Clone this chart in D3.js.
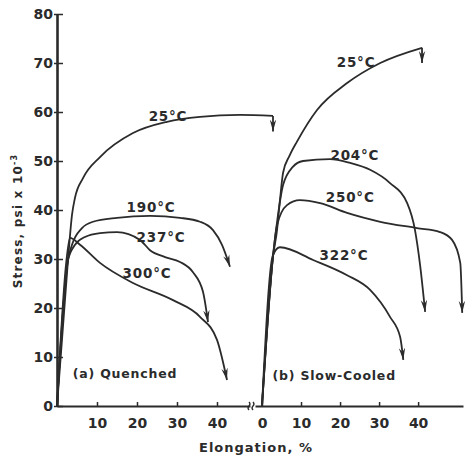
<!DOCTYPE html>
<html>
<head>
<meta charset="utf-8">
<script src="https://cdn.jsdelivr.net/npm/d3@7"></script>
<style>
  body { margin: 0; background: #fff; }
  svg { display: block; }
  text { font-family: "DejaVu Sans", sans-serif; fill: #2b2b2b; }
</style>
</head>
<body>
<script>
// stress (psi x 10^-3) vs elongation (%)
const stressTicks = [0, 10, 20, 30, 40, 50, 60, 70, 80];
const elongTicksA = [10, 20, 30, 40];
const elongTicksB = [0, 10, 20, 30, 40];

// (a) Quenched
const quenched25 = [[0, 0], [2.75, 29.8], [3.75, 39], [4.5, 42.5], [6.5, 46.5], [10.75, 50.8], [19, 55.7], [27.5, 58], [35.75, 59], [45.75, 59.4], [54, 59.2], [54, 56]];
const quenched190 = [[0, 0], [2.75, 29.8], [3.75, 32.9], [6.25, 36.3], [9, 37.6], [15, 38.4], [23.25, 38.8], [30.75, 38.4], [35.75, 37.6], [39, 35.9], [41.25, 32.9], [43.25, 28.4]];
const quenched237 = [[0, 0], [2.75, 29.8], [4.5, 32.9], [7, 34.5], [10.75, 35.3], [15, 35.5], [20.75, 33.9], [23.25, 31.8], [27, 30.4], [30.75, 29.4], [34, 27.3], [36.5, 23.3], [37.75, 17.1]];
const quenched300 = [[0, 0], [2.25, 28.8], [3.25, 34.3], [5.75, 32.9], [10.75, 29.2], [19, 25.1], [29, 21.6], [35.75, 18.2], [40, 13.5], [42.5, 5.3]];

// (b) Slow-Cooled
const slow25 = [[0, 0], [2.8, 30.4], [3.85, 35.9], [4.6, 42], [5.4, 47.6], [7, 51], [9, 54], [14.1, 60.4], [21.8, 65.9], [30.3, 70], [41, 73.1], [41, 70]];
const slow204 = [[0, 0], [2.8, 30.4], [4.1, 39], [5.4, 45.1], [7.9, 48.8], [10.5, 50], [17.4, 50.4], [22.6, 49.6], [27.7, 48.2], [32.8, 45.5], [37.2, 41.4], [39.2, 35.9], [40.5, 28.8], [41.8, 19.2]];
const slow250 = [[0, 0], [2.8, 30.4], [3.85, 36.9], [6.4, 41], [9.7, 42], [14.9, 41.4], [21.8, 39.4], [30.3, 37.6], [39.7, 36.3], [45.6, 35.5], [48.7, 33.9], [50.8, 29.2], [51.3, 19]];
const slow322 = [[0, 0], [2.8, 30.8], [4.6, 32.4], [13.1, 29.8], [21.8, 26.7], [27.7, 23.7], [32.8, 18.2], [35.4, 14.1], [36.2, 9.4]];

const curvesA = [quenched25, quenched190, quenched237, quenched300];
const curvesB = [slow25, slow204, slow250, slow322];

const labelsA = [['25°C', 27.75, 59.2], ['190°C', 23.5, 40.6], ['237°C', 26, 34.5], ['300°C', 22.5, 27.1]];
const labelsB = [['25°C', 24.1, 70.2], ['204°C', 23.8, 51.2], ['250°C', 22.6, 42.65], ['322°C', 21, 30.8]];

const width = 465;
const height = 461;

const svg = d3.select('body').append('svg')
  .attr('width', width)
  .attr('height', height);

const y = d3.scaleLinear().domain([0, 80]).range([406, 14]);
const xA = d3.scaleLinear().domain([0, 50]).range([57, 257]);
const xB = d3.scaleLinear().domain([0, 51.5]).range([262, 463]);

const ink = '#2b2b2b';

// arrow head for the fracture ends
svg.append('defs').append('marker')
  .attr('id', 'arrow')
  .attr('viewBox', '-12 -4 13 8')
  .attr('refX', 0).attr('refY', 0)
  .attr('markerWidth', 13).attr('markerHeight', 8)
  .attr('markerUnits', 'userSpaceOnUse')
  .attr('orient', 'auto')
  .append('path')
  .attr('d', 'M0,0 L-12,-3.2 L-8,0 L-12,3.2 Z')
  .attr('fill', ink);

// y axis
const yAxisG = svg.append('g')
  .attr('transform', `translate(${xA(0)},0)`)
  .call(d3.axisLeft(y).tickValues(stressTicks).tickSize(4).tickPadding(3).tickSizeOuter(0));
yAxisG.select('.domain').attr('stroke', ink).attr('stroke-width', 2.6);
yAxisG.selectAll('.tick line').attr('x1', -3).attr('x2', 6).attr('stroke', ink).attr('stroke-width', 1.5);
yAxisG.selectAll('.tick text').attr('font-size', 14).attr('font-weight', 'bold').attr('fill', ink)
  .attr('x', -4).style('font-family', '"DejaVu Sans", sans-serif');

// x axis, panel a
const xAxisScaleA = xA.copy().domain([0, xA.invert(250)]).range([xA(0), 250]);
const xAxisA = svg.append('g')
  .attr('transform', `translate(0,${y(0)})`)
  .call(d3.axisBottom(xAxisScaleA).tickValues(elongTicksA).tickSize(-4).tickPadding(12).tickSizeOuter(0));

// x axis, panel b
const xAxisScaleB = xB.copy().domain([xB.invert(255), 51.5]).range([255, 463]);
const xAxisB = svg.append('g')
  .attr('transform', `translate(0,${y(0)})`)
  .call(d3.axisBottom(xAxisScaleB).tickValues(elongTicksB).tickSize(-4).tickPadding(12).tickSizeOuter(0));

[xAxisA, xAxisB].forEach(g => {
  g.select('.domain').attr('stroke', ink).attr('stroke-width', 2.2);
  g.selectAll('.tick line').attr('stroke', ink).attr('stroke-width', 1.5);
  g.selectAll('.tick text').attr('font-size', 14).attr('font-weight', 'bold').attr('fill', ink)
    .style('font-family', '"DejaVu Sans", sans-serif');
});

// axis break
svg.append('path')
  .attr('d', `M249,${y(0) + 4} q-2,-2 0,-4 q2,-2 0,-4 M253,${y(0) + 4} q-2,-2 0,-4 q2,-2 0,-4`)
  .attr('fill', 'none')
  .attr('stroke', ink)
  .attr('stroke-width', 1.3);

// curves: smooth body, a straight vertical drop where the last two points share x
function drawCurves (data, x) {
  const body = d3.line().x(d => x(d[0])).y(d => y(d[1])).curve(d3.curveMonotoneX);
  const straight = d3.line().x(d => x(d[0])).y(d => y(d[1]));
  const g = svg.append('g')
    .attr('fill', 'none')
    .attr('stroke', ink)
    .attr('stroke-width', 1.8)
    .attr('stroke-linejoin', 'round');
  data.forEach(pts => {
    const n = pts.length;
    const drop = pts[n - 1][0] === pts[n - 2][0];
    const main = drop ? pts.slice(0, n - 1) : pts;
    const p = g.append('path').attr('d', body(main));
    if (drop) {
      g.append('path').attr('d', straight(pts.slice(n - 2))).attr('marker-end', 'url(#arrow)');
    } else {
      p.attr('marker-end', 'url(#arrow)');
    }
  });
}
drawCurves(curvesA, xA);
drawCurves(curvesB, xB);

// curve labels
const labelStyle = sel => sel
  .attr('text-anchor', 'middle')
  .attr('dy', '0.35em')
  .attr('font-size', 13.5)
  .attr('font-weight', 'bold')
  .attr('letter-spacing', 0.8);

svg.append('g').selectAll('text').data(labelsA)
  .enter().append('text')
  .attr('x', d => xA(d[1]))
  .attr('y', d => y(d[2]))
  .text(d => d[0])
  .call(labelStyle);

svg.append('g').selectAll('text').data(labelsB)
  .enter().append('text')
  .attr('x', d => xB(d[1]))
  .attr('y', d => y(d[2]))
  .text(d => d[0])
  .call(labelStyle);

// panel titles
svg.append('text')
  .attr('x', xA(17)).attr('y', y(6.7))
  .text('(a) Quenched')
  .call(labelStyle)
  .attr('font-size', 12.5);

svg.append('text')
  .attr('x', xB(18.5)).attr('y', y(6.1))
  .text('(b) Slow-Cooled')
  .call(labelStyle)
  .attr('font-size', 12.5);

// axis titles
svg.append('text')
  .attr('x', 256).attr('y', 447)
  .attr('dy', '0.35em')
  .attr('text-anchor', 'middle')
  .attr('font-size', 13)
  .attr('font-weight', 'bold')
  .attr('letter-spacing', 1)
  .text('Elongation, %');

const yTitle = svg.append('text')
  .attr('transform', 'translate(18,221) rotate(-90)')
  .attr('dy', '0.35em')
  .attr('text-anchor', 'middle')
  .attr('font-size', 12)
  .attr('font-weight', 'bold')
  .attr('letter-spacing', 1.2);
yTitle.append('tspan').text('Stress, psi x 10');
yTitle.append('tspan').attr('dy', '-0.6em').attr('font-size', 8).text('-3');
</script>
</body>
</html>
